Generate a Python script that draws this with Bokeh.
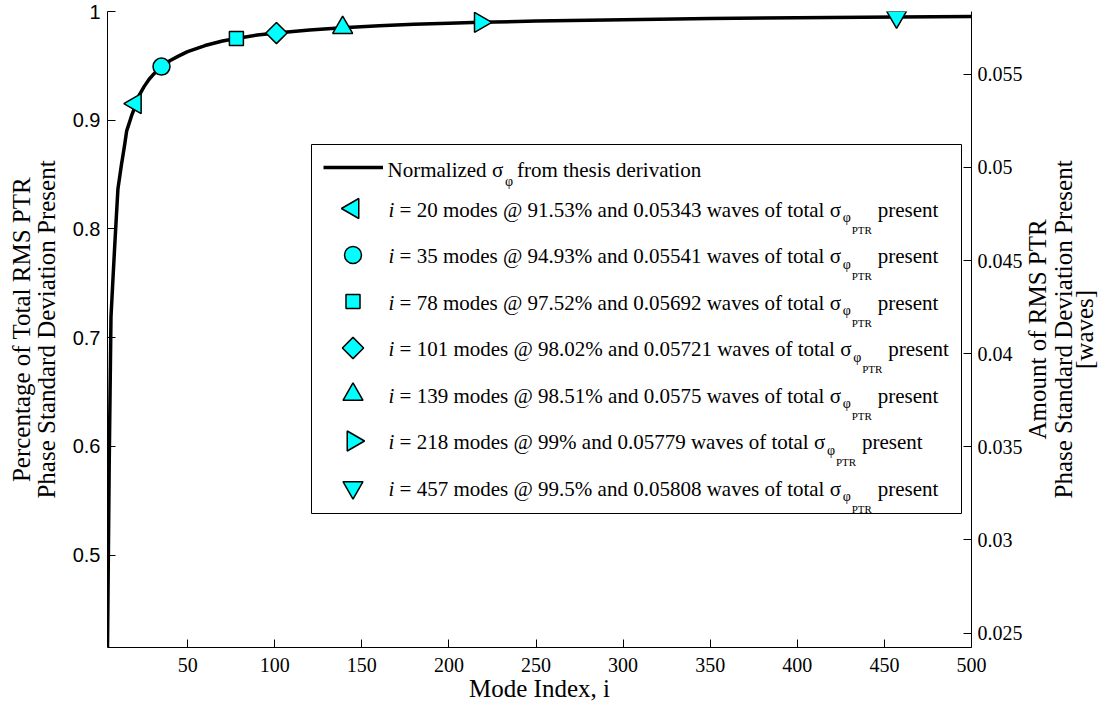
import math
import json
from bokeh.plotting import figure
from bokeh.models import (Range1d, LinearAxis, FixedTicker, Label, BoxAnnotation,
                          Legend, LegendItem, NumeralTickFormatter, ColumnDataSource,
                          CustomJSTickFormatter)
from bokeh.embed import file_html
from bokeh.resources import INLINE

# ---------------- data ----------------
mode_index = [4, 5, 6, 7, 8, 9, 10, 11, 12, 13, 14, 15, 16, 17, 18, 19, 20, 22, 25, 28, 30,
              35, 40, 45, 50, 60, 70, 78, 90, 101, 120, 139, 160, 180, 200, 218, 250, 300,
              350, 400, 457, 500]
norm_sigma = [0.415, 0.586, 0.719, 0.750, 0.780, 0.809, 0.837, 0.848, 0.859, 0.869, 0.879,
              0.890, 0.895, 0.900, 0.905, 0.909, 0.9153, 0.9224, 0.9309, 0.9379, 0.9415,
              0.9493, 0.9549, 0.9592, 0.9631, 0.9687, 0.9729, 0.9752, 0.9784, 0.9802, 0.9830,
              0.9851, 0.9868, 0.9882, 0.9893, 0.9900, 0.9912, 0.9925, 0.9935, 0.9943, 0.9950,
              0.9953]

marker_modes = [20, 35, 78, 101, 139, 218, 457]
marker_pct = [91.53, 94.93, 97.52, 98.02, 98.51, 99.0, 99.5]
marker_waves = [0.05343, 0.05541, 0.05692, 0.05721, 0.0575, 0.05779, 0.05808]

x_ticks = [50, 100, 150, 200, 250, 300, 350, 400, 450, 500]
left_ticks = [0.5, 0.6, 0.7, 0.8, 0.9, 1.0]
right_ticks = [0.025, 0.03, 0.035, 0.04, 0.045, 0.05, 0.055]

x_title = "Mode Index, i"
left_title = ["Percentage of Total RMS PTR", "Phase Standard Deviation Present"]
right_title = ["Amount of RMS PTR", "Phase Standard Deviation Present", "[waves]"]

total_sigma = marker_waves[-1] / (marker_pct[-1] / 100.0)

# ---------------- styles / layout ----------------
marker_shapes = ["triangle", "circle", "square", "square", "triangle", "triangle", "inverted_triangle"]
marker_angles = [math.pi / 2, 0, 0, math.pi / 4, 0, -math.pi / 2, 0]
marker_sizes = [20, 17, 14, 15, 20, 20, 20]
CYAN = "#00FFFF"

W, H = 1114, 709
FL, FR, FT, FB = 107, 971, 11, 647
X0, X1 = 4, 500
Y0, Y1 = 0.415, 1.0

SERIF = "Liberation Serif"
SANS = "Liberation Sans"

p = figure(width=W, height=H, x_range=Range1d(X0, X1), y_range=Range1d(Y0, Y1),
           output_backend="svg", toolbar_location=None,
           min_border_left=FL, min_border_right=W - FR, min_border_top=FT,
           min_border_bottom=H - FB)
p.xgrid.visible = False
p.ygrid.visible = False
p.outline_line_color = None
p.background_fill_color = "white"
p.border_fill_color = "white"

p.extra_y_ranges = {"right": Range1d(Y0 * total_sigma, Y1 * total_sigma)}


def cx_to_data(cx):
    return X0 + (cx - FL) * (X1 - X0) / (FR - FL)


def cy_to_data(cy):
    return Y1 - (cy - FT) * (Y1 - Y0) / (FB - FT)


def style_axis(ax, font, standoff):
    ax.major_label_text_font = font
    ax.major_label_text_font_size = "20px"
    ax.major_label_text_color = "black"
    ax.major_tick_in = 8
    ax.major_tick_out = 0
    ax.minor_tick_in = 0
    ax.minor_tick_out = 0
    ax.axis_line_color = "black"
    ax.major_tick_line_color = "black"
    ax.axis_line_width = 1
    ax.major_label_standoff = standoff


def style_title(ax):
    ax.axis_label_text_font = SERIF
    ax.axis_label_text_font_size = "25px"
    ax.axis_label_text_font_style = "normal"
    ax.axis_label_text_color = "black"


xa = p.xaxis[0]
xa.ticker = FixedTicker(ticks=x_ticks)
xa.formatter = NumeralTickFormatter(format="0")
style_axis(xa, SERIF, 10)
xa.axis_label = x_title
style_title(xa)
xa.axis_label_standoff = 0

ya = p.yaxis[0]
ya.ticker = FixedTicker(ticks=left_ticks)
ya.formatter = NumeralTickFormatter(format="0.[0]")
style_axis(ya, SANS, 7)

ra = LinearAxis(y_range_name="right", ticker=FixedTicker(ticks=right_ticks),
                formatter=NumeralTickFormatter(format="0.[000]"))
style_axis(ra, SERIF, 6)
p.add_layout(ra, "right")


def bare_axis(ax):
    ax.axis_line_color = None
    ax.major_tick_line_color = None
    ax.minor_tick_line_color = None
    ax.major_tick_in = 0
    ax.major_tick_out = 0
    ax.minor_tick_in = 0
    ax.minor_tick_out = 0


# left title: one label-only axis per line (nearest line first)
for text, standoff in [(left_title[1], 10), (left_title[0], -5)]:
    ax = LinearAxis(ticker=FixedTicker(ticks=[]), axis_label=text,
                    axis_label_standoff=standoff, major_label_standoff=0)
    bare_axis(ax)
    style_title(ax)
    p.add_layout(ax, "left")

# right title: rotated single tick label per line (reads bottom-to-top)
RC = (FT + FB) / 2.0
RLEN = [220.0, 338.0, 79.0]
RSTAND = [12, -4, -9]
for text, length, standoff in zip(right_title, RLEN, RSTAND):
    ax = LinearAxis(ticker=FixedTicker(ticks=[cy_to_data(RC + length / 2)]),
                    formatter=CustomJSTickFormatter(code="return " + json.dumps(text) + ";"),
                    major_label_orientation=math.pi / 2, major_label_standoff=standoff)
    bare_axis(ax)
    ax.major_label_text_font = SERIF
    ax.major_label_text_font_size = "25px"
    ax.major_label_text_color = "black"
    p.add_layout(ax, "right")

# ---------------- curve and markers ----------------
curve = p.line(mode_index, norm_sigma, line_color="black", line_width=3.5, line_join="round")

msrc = ColumnDataSource(dict(x=marker_modes, y=[v / 100.0 for v in marker_pct],
                             marker=marker_shapes, angle=marker_angles, size=marker_sizes))
p.scatter(x="x", y="y", marker="marker", angle="angle", size="size", source=msrc,
          fill_color=CYAN, line_color="black", line_width=1.5)

# ---------------- legend ----------------
box = BoxAnnotation(left=311 - FL, right=961 - FL, bottom=FB - 513, top=FB - 144,
                    left_units="screen", right_units="screen", top_units="screen",
                    bottom_units="screen", fill_color="white", fill_alpha=1.0,
                    line_color="black", line_width=1, line_alpha=1.0, level="underlay")
p.add_layout(box)

line_leg = Legend(items=[LegendItem(label=" ", renderers=[curve])],
                  location=(322.5 - FL, FB - 177), glyph_width=60, glyph_height=20,
                  padding=0, margin=0, spacing=0, border_line_alpha=0,
                  background_fill_alpha=0, label_text_font_size="1px", label_height=20)
p.add_layout(line_leg)

ROW0 = 208.0
PITCH = 46.5
sw_x = [cx_to_data(352.5)] * len(marker_modes)
sw_y = [cy_to_data(ROW0 + PITCH * k) for k in range(len(marker_modes))]
ssrc = ColumnDataSource(dict(x=sw_x, y=sw_y, marker=marker_shapes, angle=marker_angles,
                             size=marker_sizes))
p.scatter(x="x", y="y", marker="marker", angle="angle", size="size", source=ssrc,
          fill_color=CYAN, line_color="black", line_width=1.5)

TW = {' ': 250, '%': 833, '.': 250, '=': 564, '@': 921, 'N': 722, 'a': 444, 'd': 500,
      'e': 444, 'f': 333, 'h': 500, 'i': 278, 'l': 278, 'm': 778, 'n': 500, 'o': 500,
      'p': 500, 'r': 333, 's': 389, 't': 278, 'v': 500, 'w': 722, 'z': 444}


def text_w(s, size):
    return sum(500 if c.isdigit() else TW.get(c, 500) for c in s) * size / 1000.0


def lab(text, cx, cy, size, font=SERIF, style="normal"):
    p.add_layout(Label(x=cx - FL, y=FB - cy, x_units="screen", y_units="screen", text=text,
                       text_font=font, text_font_size=f"{size}px", text_font_style=style,
                       text_color="black", text_align="left", text_baseline="alphabetic"))


LS = 21
SP = 0.25 * LS
# first legend line
bx, by = 387.0, 169.0
lab("Normalized", bx, by, LS)
xs = bx + text_w("Normalized ", LS)
lab("σ", xs, by, LS)
lab("φ", xs + 13, by + 12, 14)
lab("from thesis derivation", xs + 25, by, LS)

for k, (m, pc, wv) in enumerate(zip(marker_modes, marker_pct, marker_waves)):
    by = ROW0 + PITCH * k + 1
    xi = 388.0
    lab("i", xi, by, LS, style="italic")
    main = f"= {m} modes @ {pc:g}% and {wv:g} waves of total"
    xm = xi + 0.278 * LS + SP
    lab(main, xm, by, LS)
    xs = xm + text_w(main, LS) + SP
    lab("σ", xs, by, LS)
    lab("φ", xs + 13, by + 8, 14)
    lab("PTR", xs + 22, by + 20, 11)
    lab("present", xs + 48, by, LS)

open("out.html", "w").write(file_html(p, INLINE))
